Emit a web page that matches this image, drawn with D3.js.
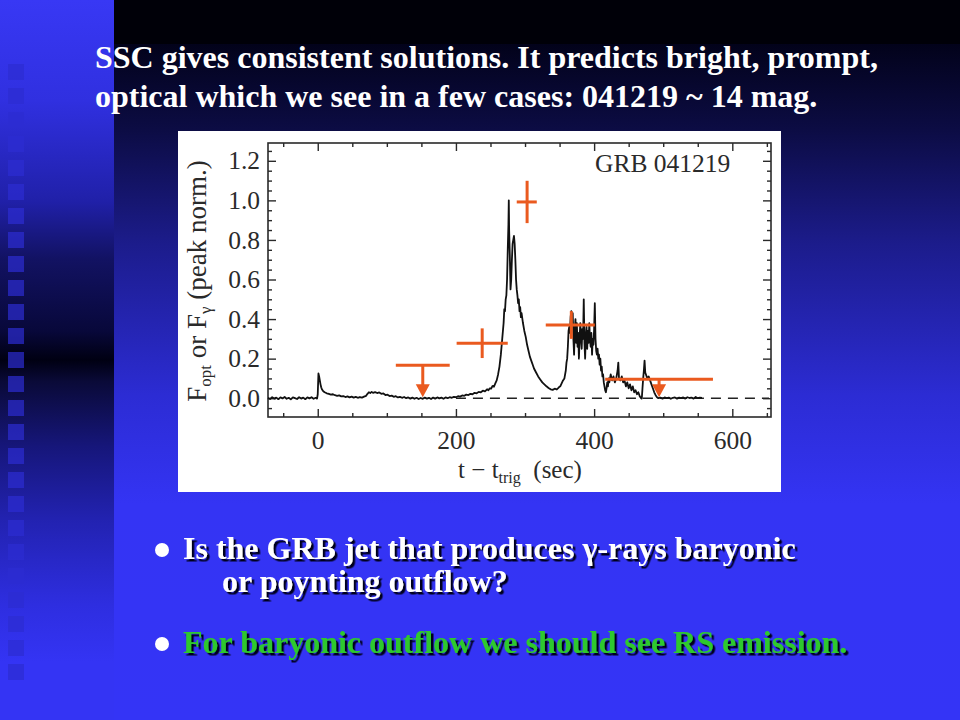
<!DOCTYPE html>
<html><head><meta charset="utf-8">
<script src="https://cdn.jsdelivr.net/npm/d3@7"></script>
<style>html,body{margin:0;padding:0;background:#000;} svg{display:block}</style>
</head><body>
<svg id="c" width="960" height="720"></svg>
<script>
// ---------- text ----------
const titleLines = [
  "SSC gives consistent solutions. It predicts bright, prompt,",
  "optical which we see in a few cases: 041219 ~ 14 mag."
];
const bullet1Lines = ["Is the GRB jet that produces \u03b3-rays baryonic", "or poynting outflow?"];
const bullet2Text = "For baryonic outflow we should see RS emission.";
const chartLabel = "GRB 041219";

// ---------- axes ----------
const xDomain = [-72, 656];
const yDomain = [-0.095, 1.29];
const xMajor = [0, 200, 400, 600];
const xMinor = [-50, 50, 100, 150, 250, 300, 350, 450, 500, 550, 650];
const yMajor = [0, 0.2, 0.4, 0.6, 0.8, 1.0, 1.2];
const yMinor = [-0.05, 0.05, 0.1, 0.15, 0.25, 0.3, 0.35, 0.45, 0.5, 0.55, 0.65, 0.7, 0.75, 0.85, 0.9, 0.95, 1.05, 1.1, 1.15, 1.25];

// ---------- gamma-ray light curve (t [s], normalized flux) ----------
const lightCurve = [
  [-72,0.002],[-69,-0.004],[-66,0.005],[-63,-0.002],[-60,0.003],[-57,-0.005],[-54,0.004],[-51,-0.001],
  [-48,0.006],[-45,-0.003],[-42,0.002],[-39,-0.006],[-36,0.004],[-33,0.000],[-30,-0.004],[-27,0.005],
  [-24,-0.002],[-21,0.003],[-18,-0.005],[-15,0.004],[-12,-0.001],[-9,0.005],[-6,-0.003],[-3,0.002],[-1,-0.002],
  [0,0.02],[1,0.125],[2,0.11],[3,0.09],[4,0.07],[5,0.055],[6,0.045],[8,0.035],[10,0.03],[13,0.025],
  [16,0.022],[19,0.018],[22,0.02],[25,0.015],[28,0.012],[31,0.014],[34,0.009],[37,0.011],[40,0.006],
  [43,0.009],[46,0.004],[49,0.008],[52,0.003],[55,0.007],[58,0.002],[61,0.006],[64,0.003],[67,0.008],
  [70,0.012],[72,0.022],[74,0.03],[76,0.026],[78,0.032],[80,0.027],[83,0.031],[86,0.026],[89,0.029],
  [92,0.022],[95,0.024],[98,0.016],[101,0.018],[104,0.011],[107,0.013],[110,0.007],[113,0.01],[116,0.004],
  [119,0.007],[122,0.002],[125,0.006],[128,0.0],[131,0.004],[134,-0.002],[137,0.003],[140,-0.003],
  [143,0.002],[146,-0.004],[149,0.001],[152,-0.003],[155,0.003],[158,-0.002],[161,0.002],[164,-0.004],
  [167,0.003],[170,-0.002],[173,0.004],[176,-0.001],[179,0.003],[182,-0.003],[185,0.004],[188,0.0],
  [191,0.005],[194,0.002],[197,0.007],[200,0.005],[203,0.01],[206,0.008],[209,0.014],[212,0.012],
  [215,0.018],[218,0.016],[221,0.022],[224,0.02],[227,0.027],[230,0.025],[233,0.032],[236,0.03],
  [239,0.038],[242,0.035],[245,0.045],[247,0.04],[249,0.05],[251,0.048],[253,0.062],[255,0.058],
  [257,0.075],[259,0.09],[261,0.12],[263,0.16],[265,0.22],[267,0.3],[269,0.38],[270,0.45],[271,0.44],
  [272,0.5],[273,0.52],[274,0.6],[275,0.75],[276,0.88],[276.5,1.0],[277,0.85],[278,0.72],[279,0.55],
  [280,0.6],[281,0.7],[282,0.78],[283,0.8],[284,0.82],[285,0.78],[286,0.7],[287,0.6],[288,0.55],
  [289,0.52],[290,0.48],[291,0.5],[292,0.44],[293,0.46],[294,0.41],[295,0.43],[297,0.38],[299,0.34],
  [301,0.31],[303,0.27],[305,0.24],[307,0.21],[309,0.19],[311,0.17],[313,0.15],[316,0.13],[319,0.11],
  [322,0.095],[325,0.08],[328,0.07],[331,0.06],[334,0.052],[337,0.045],[340,0.042],[343,0.048],
  [346,0.044],[349,0.055],[351,0.06],[353,0.075],[355,0.09],[357,0.1],[359,0.14],[360,0.18],[361,0.2],
  [362,0.26],[363,0.34],[364,0.36],[365,0.33],[366,0.41],[367,0.44],[368,0.39],[369,0.43],[370,0.3],
  [371,0.22],[372,0.35],[373,0.4],[374,0.28],[375,0.38],[376,0.26],[377,0.33],[378,0.2],[379,0.3],
  [380,0.38],[381,0.3],[382,0.25],[383,0.35],[384,0.3],[385,0.5],[386,0.28],[387,0.2],[388,0.32],
  [389,0.36],[390,0.25],[391,0.34],[392,0.28],[393,0.38],[394,0.3],[395,0.26],[396,0.33],[397,0.22],
  [398,0.3],[399,0.27],[400,0.35],[401,0.48],[402,0.3],[403,0.24],[404,0.22],[405,0.25],[406,0.2],
  [407,0.22],[408,0.17],[409,0.2],[410,0.14],[411,0.16],[412,0.11],[413,0.12],[414,0.08],[415,0.06],
  [416,0.04],[417,0.03],[418,0.05],[419,0.08],[420,0.06],[421,0.1],[422,0.08],[424,0.12],[426,0.09],
  [428,0.11],[430,0.08],[432,0.1],[434,0.14],[435,0.18],[436,0.1],[438,0.09],[440,0.11],[442,0.08],
  [444,0.09],[446,0.06],[448,0.08],[450,0.05],[452,0.07],[454,0.04],[456,0.06],[458,0.03],[460,0.04],
  [462,0.02],[464,0.03],[466,0.01],[468,0.0],[469,-0.002],[470,0.05],[471,0.1],[472,0.14],[473,0.19],
  [474,0.13],[475,0.12],[477,0.1],[479,0.11],[481,0.09],[483,0.07],[485,0.05],[487,0.03],[489,0.015],
  [491,0.005],[493,0.0],[496,0.003],[499,-0.002],[502,0.004],[505,0.0],[508,0.003],[511,-0.003],
  [514,0.002],[517,0.004],[520,-0.002],[523,0.003],[526,0.0],[529,0.004],[532,-0.002],[535,0.005],
  [538,0.001],[541,0.003],[544,-0.002],[547,0.006],[550,0.0],[553,0.003],[556,0.001]
];

// ---------- optical points ----------
const optTime    = [152, 238, 303, 367, 494];
const optTimeLo  = [113, 201, 288, 330, 416];
const optTimeHi  = [191, 275, 317, 401, 572];
const optFlux    = [0.167, 0.278, 0.992, 0.37, 0.096];
const optFluxErr = [0, 0.075, 0.107, 0.07, 0];
const optIsLimit = [true, false, false, false, true];

// ---------- drawing ----------
const svg = d3.select("#c");
const defs = svg.append("defs");

const gLeft = defs.append("linearGradient").attr("id","gl").attr("x1",0).attr("y1",0).attr("x2",0).attr("y2",1);
[[0,"#3838f4"],[0.14,"#3030e0"],[0.28,"#2020a8"],[0.36,"#121262"],[0.46,"#08083a"],[0.5,"#000012"],
 [0.53,"#0a0a38"],[0.62,"#16167a"],[0.72,"#2222b0"],[0.84,"#2e2ee0"],[0.92,"#3434f4"],[1,"#3434f4"]]
 .forEach(([o,c]) => gLeft.append("stop").attr("offset",o).attr("stop-color",c));

const gRight = defs.append("linearGradient").attr("id","gr").attr("x1",0).attr("y1",0).attr("x2",0).attr("y2",1);
[[0,"#000006"],[0.06,"#02021a"],[0.18,"#0c0c44"],[0.34,"#1c1c8c"],[0.55,"#2c2cd4"],[0.7,"#3434f4"],[1,"#3434f6"]]
 .forEach(([o,c]) => gRight.append("stop").attr("offset",o).attr("stop-color",c));

const shadow = defs.append("filter").attr("id","sh").attr("x","-5%").attr("y","-30%").attr("width","110%").attr("height","160%");
shadow.append("feDropShadow").attr("dx",2.5).attr("dy",2.5).attr("stdDeviation",0.4)
  .attr("flood-color","#05051a").attr("flood-opacity",1);

svg.append("rect").attr("x",114).attr("y",0).attr("width",846).attr("height",720).attr("fill","url(#gr)");
svg.append("rect").attr("x",114).attr("y",0).attr("width",846).attr("height",44).attr("fill","#000008");
svg.append("rect").attr("x",0).attr("y",0).attr("width",114).attr("height",720).attr("fill","url(#gl)");

const squareRows = d3.range(64, 670, 24);
svg.append("g").selectAll("rect").data(squareRows).join("rect")
  .attr("x",8).attr("y",d=>d).attr("width",16).attr("height",16)
  .attr("fill","#2c2cd2").attr("opacity",0.7);

// title
svg.append("g").selectAll("text").data(titleLines).join("text")
  .attr("x",95).attr("y",(d,i)=>68+i*39)
  .attr("font-family","'Liberation Serif','Times New Roman',serif")
  .attr("font-weight","bold").attr("font-size",32).attr("fill","#ffffff")
  .text(d=>d);

// chart panel
svg.append("rect").attr("x",178).attr("y",131).attr("width",603).attr("height",361).attr("fill","#ffffff");

const L=268, R=771, T=143, B=417;
const x = d3.scaleLinear().domain(xDomain).range([L,R]);
const y = d3.scaleLinear().domain(yDomain).range([B,T]);
const font = "'Liberation Serif','Times New Roman',serif";
const axisColor = "#2a2a2a";

function styleAxis(g){
  g.select(".domain").remove();
  g.selectAll("line").attr("stroke",axisColor).attr("stroke-width",1.4);
  g.selectAll("text").attr("font-family",font).attr("font-size",25.5).attr("fill","#2a2a2a");
}
svg.append("g").attr("transform",`translate(0,${B})`)
  .call(d3.axisBottom(x).tickValues(xMajor).tickSize(-8).tickPadding(14).tickFormat(d3.format("d"))).call(styleAxis);
svg.append("g").attr("transform",`translate(0,${B})`)
  .call(d3.axisBottom(x).tickValues(xMinor).tickSize(-4).tickFormat("")).call(styleAxis);
svg.append("g").attr("transform",`translate(0,${T})`)
  .call(d3.axisTop(x).tickValues(xMajor).tickSize(-8).tickFormat("")).call(styleAxis);
svg.append("g").attr("transform",`translate(0,${T})`)
  .call(d3.axisTop(x).tickValues(xMinor).tickSize(-4).tickFormat("")).call(styleAxis);
svg.append("g").attr("transform",`translate(${L},0)`)
  .call(d3.axisLeft(y).tickValues(yMajor).tickSize(-8).tickPadding(8).tickFormat(d3.format(".1f"))).call(styleAxis);
svg.append("g").attr("transform",`translate(${L},0)`)
  .call(d3.axisLeft(y).tickValues(yMinor).tickSize(-4).tickFormat("")).call(styleAxis);
svg.append("g").attr("transform",`translate(${R},0)`)
  .call(d3.axisRight(y).tickValues(yMajor).tickSize(-8).tickFormat("")).call(styleAxis);
svg.append("g").attr("transform",`translate(${R},0)`)
  .call(d3.axisRight(y).tickValues(yMinor).tickSize(-4).tickFormat("")).call(styleAxis);

svg.append("rect").attr("x",L).attr("y",T).attr("width",R-L).attr("height",B-T)
  .attr("fill","none").attr("stroke",axisColor).attr("stroke-width",1.6);

// zero dashed line
svg.append("line").attr("x1",x(200)).attr("x2",R-2).attr("y1",y(0)).attr("y2",y(0))
  .attr("stroke","#222").attr("stroke-width",1.5).attr("stroke-dasharray","10,7");

// light curve
svg.append("path").datum(lightCurve)
  .attr("d", d3.line().x(d=>x(d[0])).y(d=>y(d[1])))
  .attr("fill","none").attr("stroke","#111").attr("stroke-width",1.8).attr("stroke-linejoin","round");

// optical points
const orange = "#ea5a1f";
const og = svg.append("g").attr("stroke",orange).attr("stroke-width",3).attr("fill","none");
optTime.forEach((t,i)=>{
  og.append("line").attr("x1",x(optTimeLo[i])).attr("x2",x(optTimeHi[i])).attr("y1",y(optFlux[i])).attr("y2",y(optFlux[i]));
  if(optIsLimit[i]){
    const tip = y(0) - 1;
    og.append("line").attr("x1",x(t)).attr("x2",x(t)).attr("y1",y(optFlux[i])).attr("y2",tip-10);
    svg.append("path")
      .attr("d",`M${x(t)-7},${tip-13} L${x(t)+7},${tip-13} L${x(t)},${tip} Z`)
      .attr("fill",orange);
  } else {
    og.append("line").attr("x1",x(t)).attr("x2",x(t))
      .attr("y1",y(optFlux[i]+optFluxErr[i])).attr("y2",y(optFlux[i]-optFluxErr[i]));
  }
});

// chart label
svg.append("text").attr("x",595).attr("y",172).attr("font-family",font).attr("font-size",25.5)
  .attr("fill","#2a2a2a").text(chartLabel);

// x label
const xl = svg.append("text").attr("x",520).attr("y",478).attr("text-anchor","middle")
  .attr("font-family",font).attr("font-size",25).attr("fill","#2a2a2a");
xl.append("tspan").text("t \u2212 t");
xl.append("tspan").attr("font-size",16).attr("dy",5).text("trig");
xl.append("tspan").attr("dy",-5).text("\u2002(sec)");

// y label
const yl = svg.append("text").attr("transform","translate(206,281) rotate(-90)").attr("text-anchor","middle")
  .attr("font-family",font).attr("font-size",27).attr("fill","#2a2a2a");
yl.append("tspan").text("F");
yl.append("tspan").attr("font-size",17).attr("dy",5).text("opt");
yl.append("tspan").attr("dy",-5).text(" or F");
yl.append("tspan").attr("font-size",17).attr("dy",5).text("\u03b3");
yl.append("tspan").attr("dy",-5).text(" (peak norm.)");

// bullets
const bfont = "'Liberation Serif','Times New Roman',serif";
function shadowText(xp, yp, txt, color){
  svg.append("text").attr("x",xp).attr("y",yp).attr("font-family",bfont).attr("font-weight","bold")
    .attr("font-size",32).attr("fill",color).attr("filter","url(#sh)").text(txt);
}
svg.append("circle").attr("cx",162).attr("cy",550).attr("r",7).attr("fill","#ffffff");
svg.append("circle").attr("cx",162).attr("cy",644).attr("r",7).attr("fill","#ffffff");
shadowText(183, 559, bullet1Lines[0], "#ffffff");
shadowText(222, 592, bullet1Lines[1], "#ffffff");
shadowText(183, 653, bullet2Text, "#2ec82e");
</script>
</body></html>
